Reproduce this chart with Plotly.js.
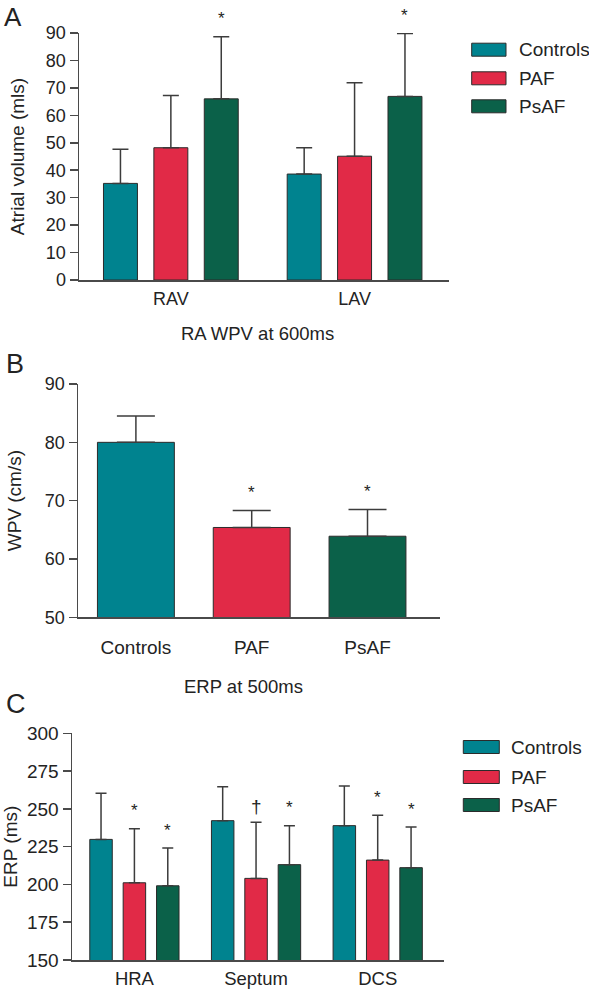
<!DOCTYPE html>
<html>
<head>
<meta charset="utf-8">
<script src="https://cdn.plot.ly/plotly-3.0.1.min.js"></script>
<style>
  html, body { margin: 0; padding: 0; background: #fff; }
  #chart { width: 589px; height: 990px; }
</style>
</head>
<body>
<div id="chart"></div>
<script>
// ---------- DATA ----------
const groupNames = ['Controls', 'PAF', 'PsAF'];

// Panel A: atrial volume (mls)
const catA = ['RAV', 'LAV'];
const meanA_Controls = [35.2, 38.6];
const sdA_Controls   = [12.4, 9.6];
const meanA_PAF      = [48.2, 45.1];
const sdA_PAF        = [19.0, 26.8];
const meanA_PsAF     = [66.0, 66.9];
const sdA_PsAF       = [22.6, 22.9];
const sigA_Controls  = ['', ''];
const sigA_PAF       = ['', ''];
const sigA_PsAF      = ['*', '*'];

// Panel B: RA WPV at 600ms (cm/s)
const catB  = ['Controls', 'PAF', 'PsAF'];
const meanB = [80.0, 65.4, 63.9];
const sdB   = [4.5, 2.9, 4.6];
const sigB  = ['', '*', '*'];

// Panel C: ERP at 500ms (ms)
const catC = ['HRA', 'Septum', 'DCS'];
const meanC_Controls = [229.8, 242.2, 238.9];
const sdC_Controls   = [30.5, 22.5, 26.2];
const meanC_PAF      = [201.1, 204.0, 216.1];
const sdC_PAF        = [35.8, 37.1, 29.6];
const meanC_PsAF     = [199.1, 213.1, 211.1];
const sdC_PsAF       = [25.0, 25.8, 26.9];
const sigC_Controls  = ['', '', ''];
const sigC_PAF       = ['*', '\u2020', '*'];
const sigC_PsAF      = ['*', '*', '*'];

// ---------- STYLE ----------
const W = 589, H = 990;
const FONT = 'Liberation Sans, Arial, Helvetica, sans-serif';
const TXT = '#232323';
const AX = '#4a4a4a';
const colors = ['#00838F', '#E12A47', '#0B6149'];
const BARGAP = 0.177, BARGROUPGAP = 0.326;
const px = p => p / W;
const py = p => 1 - p / H;

function barTrace(cats, means, sds, color, name, xa, ya, capw) {
  return {
    type: 'bar', name: name, x: cats, y: means,
    xaxis: xa, yaxis: ya, showlegend: false,
    marker: { color: color, line: { color: '#2b2b2b', width: 1 } },
    error_y: { type: 'data', symmetric: false, array: sds, arrayminus: sds.map(() => 0),
               color: '#3c3c3c', thickness: 1.5, width: capw }
  };
}

const traces = [
  barTrace(catA, meanA_Controls, sdA_Controls, colors[0], groupNames[0], 'x', 'y', 8),
  barTrace(catA, meanA_PAF, sdA_PAF, colors[1], groupNames[1], 'x', 'y', 8),
  barTrace(catA, meanA_PsAF, sdA_PsAF, colors[2], groupNames[2], 'x', 'y', 8),
  Object.assign(barTrace(catB, meanB, sdB, colors, 'RA WPV', 'x2', 'y2', 19), { width: 0.664 }),
  barTrace(catC, meanC_Controls, sdC_Controls, colors[0], groupNames[0], 'x3', 'y3', 5.5),
  barTrace(catC, meanC_PAF, sdC_PAF, colors[1], groupNames[1], 'x3', 'y3', 5.5),
  barTrace(catC, meanC_PsAF, sdC_PsAF, colors[2], groupNames[2], 'x3', 'y3', 5.5)
];

// ---------- ANNOTATIONS ----------
const annotations = [];
function sigMarks(sigs, means, sds, traceIdx, nTraces, xref, yref, grouped) {
  const slot = (1 - BARGAP) / nTraces;
  const off = grouped ? (traceIdx - (nTraces - 1) / 2) * slot : 0;
  sigs.forEach((s, i) => {
    if (!s) return;
    annotations.push({
      xref: xref, yref: yref, x: i + off, y: means[i] + sds[i],
      text: s, showarrow: false, xanchor: 'center', yanchor: 'middle',
      yshift: s === '\u2020' ? 16 : 18,
      font: { family: FONT, size: s === '\u2020' ? 19 : 17, color: TXT }
    });
  });
}
sigMarks(sigA_Controls, meanA_Controls, sdA_Controls, 0, 3, 'x', 'y', true);
sigMarks(sigA_PAF, meanA_PAF, sdA_PAF, 1, 3, 'x', 'y', true);
sigMarks(sigA_PsAF, meanA_PsAF, sdA_PsAF, 2, 3, 'x', 'y', true);
sigB.forEach((s, i) => {
  if (!s) return;
  annotations.push({ xref: 'x2', yref: 'y2', x: i, y: meanB[i] + sdB[i], text: s,
    showarrow: false, yanchor: 'middle', yshift: 18, font: { family: FONT, size: 17, color: TXT } });
});
sigMarks(sigC_Controls, meanC_Controls, sdC_Controls, 0, 3, 'x3', 'y3', true);
sigMarks(sigC_PAF, meanC_PAF, sdC_PAF, 1, 3, 'x3', 'y3', true);
sigMarks(sigC_PsAF, meanC_PsAF, sdC_PsAF, 2, 3, 'x3', 'y3', true);

function paperText(text, xp, yp, size, xanchor, yanchor) {
  annotations.push({ xref: 'paper', yref: 'paper', x: px(xp), y: py(yp), text: text,
    showarrow: false, xanchor: xanchor || 'center', yanchor: yanchor || 'middle',
    font: { family: FONT, size: size, color: TXT } });
}
// panel letters and section titles
paperText('A', 2, 0, 26, 'left', 'top');
paperText('B', 4, 364, 27, 'left');
paperText('C', 4, 704, 27, 'left');
paperText('RA WPV at 600ms', 257, 333.5, 18.5);
paperText('ERP at 500ms', 243, 686, 18.5);

// custom legends
const shapes = [];
function legend(x0, x1, centers, textX) {
  groupNames.forEach((n, i) => {
    shapes.push({ type: 'rect', xref: 'paper', yref: 'paper',
      x0: px(x0), x1: px(x1), y0: py(centers[i] + 6.5), y1: py(centers[i] - 6.5),
      fillcolor: colors[i], line: { color: '#2b2b2b', width: 1 } });
    paperText(n, textX, centers[i], 19, 'left');
  });
}
legend(471.7, 506, [49.7, 78.3, 106.3], 516.5);
legend(463.3, 499.3, [747, 777, 805], 509);

// ---------- AXES ----------
function yAxis(domainPx, range, dtick, title, tickSize, anchor, standoff) {
  return {
    domain: [py(domainPx[1]), py(domainPx[0])], anchor: anchor,
    range: range, dtick: dtick, tick0: range[0], fixedrange: true,
    showline: true, linecolor: AX, linewidth: 1.5, showgrid: false, zeroline: false,
    ticks: 'outside', ticklen: 8, tickwidth: 1.5, tickcolor: AX,
    tickfont: { family: FONT, size: tickSize, color: TXT },
    title: { text: title, font: { family: FONT, size: 19, color: TXT }, standoff: standoff },
    automargin: false
  };
}
function xAxis(xDomPx, range, anchor, tickSize, standoff) {
  return {
    domain: [px(xDomPx[0]), px(xDomPx[1])], anchor: anchor, type: 'category',
    range: range, fixedrange: true,
    showline: true, linecolor: AX, linewidth: 1.5, showgrid: false, zeroline: false,
    ticks: '', tickfont: { family: FONT, size: tickSize, color: TXT },
    ticklabelstandoff: standoff, automargin: false
  };
}

const layout = {
  width: W, height: H,
  margin: { l: 0, r: 0, t: 0, b: 0, pad: 0 },
  paper_bgcolor: '#ffffff', plot_bgcolor: '#ffffff',
  barmode: 'group', bargap: BARGAP, bargroupgap: BARGROUPGAP,
  showlegend: false,
  font: { family: FONT, color: TXT },
  xaxis:  xAxis([79, 449], [-0.5, 1.514], 'y', 18, 2),
  yaxis:  yAxis([33, 280], [0, 90], 10, 'Atrial volume (mls)', 18, 'x', 16),
  xaxis2: xAxis([78, 440], [-0.5, 2.626], 'y2', 19, 12),
  yaxis2: yAxis([384, 617.3], [50, 90], 10, 'WPV (cm/s)', 18, 'x2', 18),
  xaxis3: xAxis([72, 444], [-0.513, 2.545], 'y3', 18.5, 1),
  yaxis3: yAxis([733.3, 960], [150, 300], 25, 'ERP (ms)', 19, 'x3', 10),
  annotations: annotations,
  shapes: shapes
};

Plotly.newPlot('chart', traces, layout, { displayModeBar: false, staticPlot: true });
</script>
</body>
</html>
